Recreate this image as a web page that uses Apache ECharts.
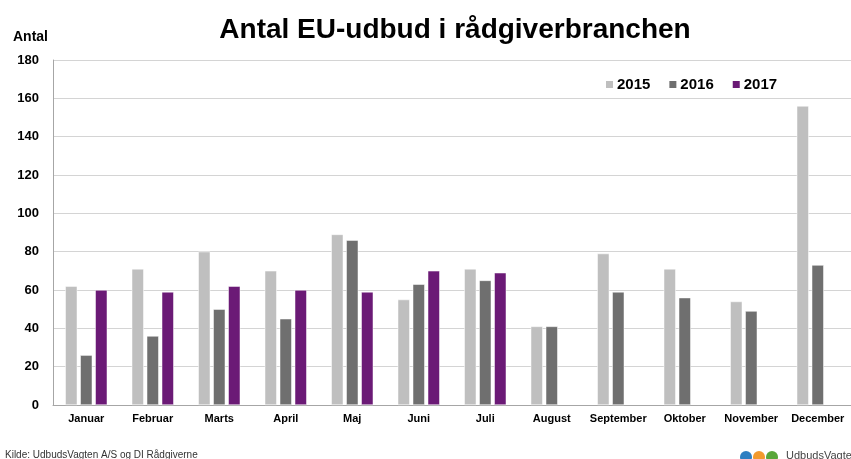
<!DOCTYPE html>
<html>
<head>
<meta charset="utf-8">
<script src="https://cdn.jsdelivr.net/npm/echarts@6/dist/echarts.min.js"></script>
<style>
html, body { margin: 0; padding: 0; background: #fff; }
#main { width: 851px; height: 459px; }
</style>
</head>
<body>
<div id="main"></div>
<script>
var months = ['Januar', 'Februar', 'Marts', 'April', 'Maj', 'Juni', 'Juli', 'August', 'September', 'Oktober', 'November', 'December'];
var years = ['2015', '2016', '2017'];
var v2015 = [62, 71, 80, 70, 89, 55, 71, 41, 79, 71, 54, 156];
var v2016 = [26, 36, 50, 45, 86, 63, 65, 41, 59, 56, 49, 73];
var v2017 = [60, 59, 62, 60, 59, 70, 69, null, null, null, null, null];
var yTicks = [0, 20, 40, 60, 80, 100, 120, 140, 160, 180];

var colors = ['#bfbfbf', '#6f6f6f', '#6b1a76'];
var font = 'Liberation Sans, Arial, sans-serif';

var chart = echarts.init(document.getElementById('main'));

function barSeries(name, vals, idx) {
    return {
        name: name,
        type: 'bar',
        data: vals,
        barWidth: 12,
        barGap: '25%',
        itemStyle: {
            color: colors[idx],
            borderColor: '#ffffff',
            borderWidth: 0.5
        }
    };
}

var option = {
    animation: false,
    textStyle: { fontFamily: font },
    title: {
        text: 'Antal EU-udbud i rådgiverbranchen',
        left: 450,
        top: 11,
        textAlign: 'center',
        textStyle: { fontSize: 28, fontWeight: 'bold', color: '#000', fontFamily: font }
    },
    legend: {
        data: years,
        left: 599,
        top: 72,
        itemWidth: 9,
        itemHeight: 9,
        itemGap: 17,
        icon: 'rect',
        textStyle: { fontSize: 15, fontWeight: 'bold', color: '#000', fontFamily: font, padding: [0, 0, 0, -2] }
    },
    grid: {
        left: 53,
        top: 60,
        width: 800,
        height: 345
    },
    xAxis: {
        type: 'category',
        data: months,
        axisLine: { lineStyle: { color: '#a6a6a6', width: 1 } },
        axisTick: { show: false },
        axisLabel: { fontSize: 11, fontWeight: 'bold', color: '#000', margin: 8, interval: 0 }
    },
    yAxis: {
        type: 'value',
        min: 0,
        max: 180,
        interval: 20,
        name: 'Antal',
        nameLocation: 'end',
        nameGap: 16,
        nameTextStyle: { fontSize: 14, fontWeight: 'bold', color: '#000', align: 'right', padding: [0, 5, 0, 0] },
        axisLine: { show: true, lineStyle: { color: '#a6a6a6', width: 1 } },
        axisTick: { show: false },
        splitLine: { lineStyle: { color: '#d4d4d4', width: 1 } },
        axisLabel: { fontSize: 13, fontWeight: 'bold', color: '#000', margin: 14 }
    },
    graphic: [
        {
            type: 'text',
            left: 5,
            top: 450,
            style: { text: 'Kilde: UdbudsVagten A/S og DI Rådgiverne', fontSize: 10, fill: '#333', fontFamily: font }
        },
        { type: 'circle', shape: { cx: 746, cy: 457, r: 6 }, style: { fill: '#2f7fc1' } },
        { type: 'circle', shape: { cx: 759, cy: 457, r: 6 }, style: { fill: '#f29a2e' } },
        { type: 'circle', shape: { cx: 772, cy: 457, r: 6 }, style: { fill: '#5aa63a' } },
        {
            type: 'text',
            left: 786,
            top: 450,
            style: { text: 'UdbudsVagten', fontSize: 11, fill: '#444', fontFamily: font }
        }
    ],
    series: [
        barSeries(years[0], v2015, 0),
        barSeries(years[1], v2016, 1),
        barSeries(years[2], v2017, 2)
    ]
};

chart.setOption(option);
</script>
</body>
</html>
